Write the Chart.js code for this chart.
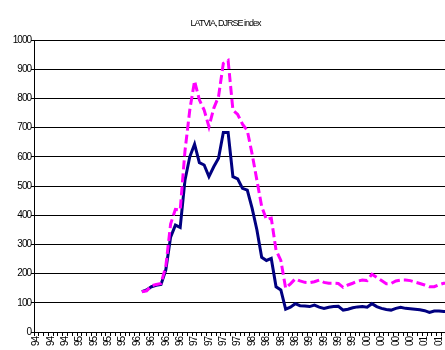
<!DOCTYPE html>
<html>
<head>
<meta charset="utf-8">
<title>LATVIA, DJRSE index</title>
<script src="https://cdn.jsdelivr.net/npm/chart.js@4/dist/chart.umd.min.js"></script>
<style>
  html, body { margin: 0; padding: 0; background: #fff; overflow: hidden; }
  #wrap { width: 445px; height: 350px; overflow: hidden; }
  canvas { display: block; }
</style>
</head>
<body>
<div id="wrap"><canvas id="chart" width="464" height="350"></canvas></div>
<script>
// Monthly categories, April 1994 – June 2001
const categories = [
  'Apr 94','May 94','Jun 94','Jul 94','Aug 94','Sep 94','Oct 94','Nov 94','Dec 94',
  'Jan 95','Feb 95','Mar 95','Apr 95','May 95','Jun 95','Jul 95','Aug 95','Sep 95','Oct 95','Nov 95','Dec 95',
  'Jan 96','Feb 96','Mar 96','Apr 96','May 96','Jun 96','Jul 96','Aug 96','Sep 96','Oct 96','Nov 96','Dec 96',
  'Jan 97','Feb 97','Mar 97','Apr 97','May 97','Jun 97','Jul 97','Aug 97','Sep 97','Oct 97','Nov 97','Dec 97',
  'Jan 98','Feb 98','Mar 98','Apr 98','May 98','Jun 98','Jul 98','Aug 98','Sep 98','Oct 98','Nov 98','Dec 98',
  'Jan 99','Feb 99','Mar 99','Apr 99','May 99','Jun 99','Jul 99','Aug 99','Sep 99','Oct 99','Nov 99','Dec 99',
  'Jan 00','Feb 00','Mar 00','Apr 00','May 00','Jun 00','Jul 00','Aug 00','Sep 00','Oct 00','Nov 00','Dec 00',
  'Jan 01','Feb 01','Mar 01','Apr 01','May 01','Jun 01'
];

// A year label is printed on every third month
const labelEvery = 3;

// Y axis range
const yTicks = { min: 0, max: 1000, step: 100 };

// Solid navy series (index starts Feb 96)
const solidSeries = [
  null,null,null,null,null,null,null,null,null,null,null,null,null,null,null,null,null,null,null,null,null,
  null,
  138,144,155,160,163,213,325,366,358,520,600,643,580,572,532,566,595,683,683,532,
  524,492,486,424,350,256,245,252,155,144,78,85,97,90,89,87,92,85,81,85,
  87,88,75,78,83,86,87,85,97,87,81,77,75,81,85,81,80,78,76,73,
  67,72,72,70,70
];

// Dashed magenta series
const dashedSeries = [
  null,null,null,null,null,null,null,null,null,null,null,null,null,null,null,null,null,null,null,null,null,
  null,
  138,141,158,163,166,225,370,420,418,620,760,860,795,760,703,766,806,920,930,760,
  745,712,690,610,520,430,385,390,280,245,150,165,182,175,170,169,172,178,170,167,
  167,166,153,161,167,174,178,176,198,187,176,165,166,175,178,178,176,171,166,161,
  155,155,162,167,167
];

// Tight, slightly condensed lettering for all chart text
const condensedText = {
  id: 'condensedText',
  beforeDraw(chart) { chart.ctx.letterSpacing = '-1px'; }
};

new Chart(document.getElementById('chart'), {
  type: 'line',
  data: {
    labels: categories,
    datasets: [
      {
        data: dashedSeries,
        borderColor: '#ff00ff',
        borderWidth: 3,
        borderDash: [9, 4],
        borderCapStyle: 'butt',
        pointRadius: 0,
        tension: 0,
        spanGaps: false
      },
      {
        data: solidSeries,
        borderColor: '#000080',
        borderWidth: 3,
        pointRadius: 0,
        tension: 0,
        spanGaps: false
      }
    ]
  },
  options: {
    responsive: false,
    animation: false,
    events: [],
    layout: { padding: { left: 0, right: 13, top: 0, bottom: 0 } },
    plugins: {
      legend: { display: false },
      tooltip: { enabled: false },
      title: {
        display: true,
        text: 'LATVIA, DJRSE index',
        color: '#000',
        font: { family: "'Liberation Sans', Arial, sans-serif", size: 9, weight: 'normal', lineHeight: 1.2 },
        padding: { top: 18.6, bottom: 10.6 }
      }
    },
    scales: {
      x: {
        type: 'category',
        offset: true,
        border: { display: true, color: '#000', width: 1 },
        grid: {
          offset: true,
          drawOnChartArea: false,
          drawTicks: true,
          tickLength: 4,
          color: '#000'
        },
        ticks: {
          autoSkip: false,
          minRotation: 90,
          maxRotation: 90,
          padding: 1,
          color: '#000',
          font: { family: "'Liberation Sans', Arial, sans-serif", size: 10 },
          callback(value, index) {
            return index % labelEvery === 0 ? categories[index].slice(-2) : '';
          }
        },
        afterFit(scale) { scale.height = 18; }
      },
      y: {
        min: yTicks.min,
        max: yTicks.max,
        border: { display: true, color: '#000', width: 1 },
        grid: { color: '#000', lineWidth: 1, tickLength: 3 },
        ticks: {
          stepSize: yTicks.step,
          padding: 0,
          color: '#000',
          font: { family: "'Liberation Sans', Arial, sans-serif", size: 10 },
          callback(value) { return String(value); }
        },
        afterFit(scale) { scale.width = 34; }
      }
    }
  },
  plugins: [condensedText]
});
</script>
</body>
</html>
